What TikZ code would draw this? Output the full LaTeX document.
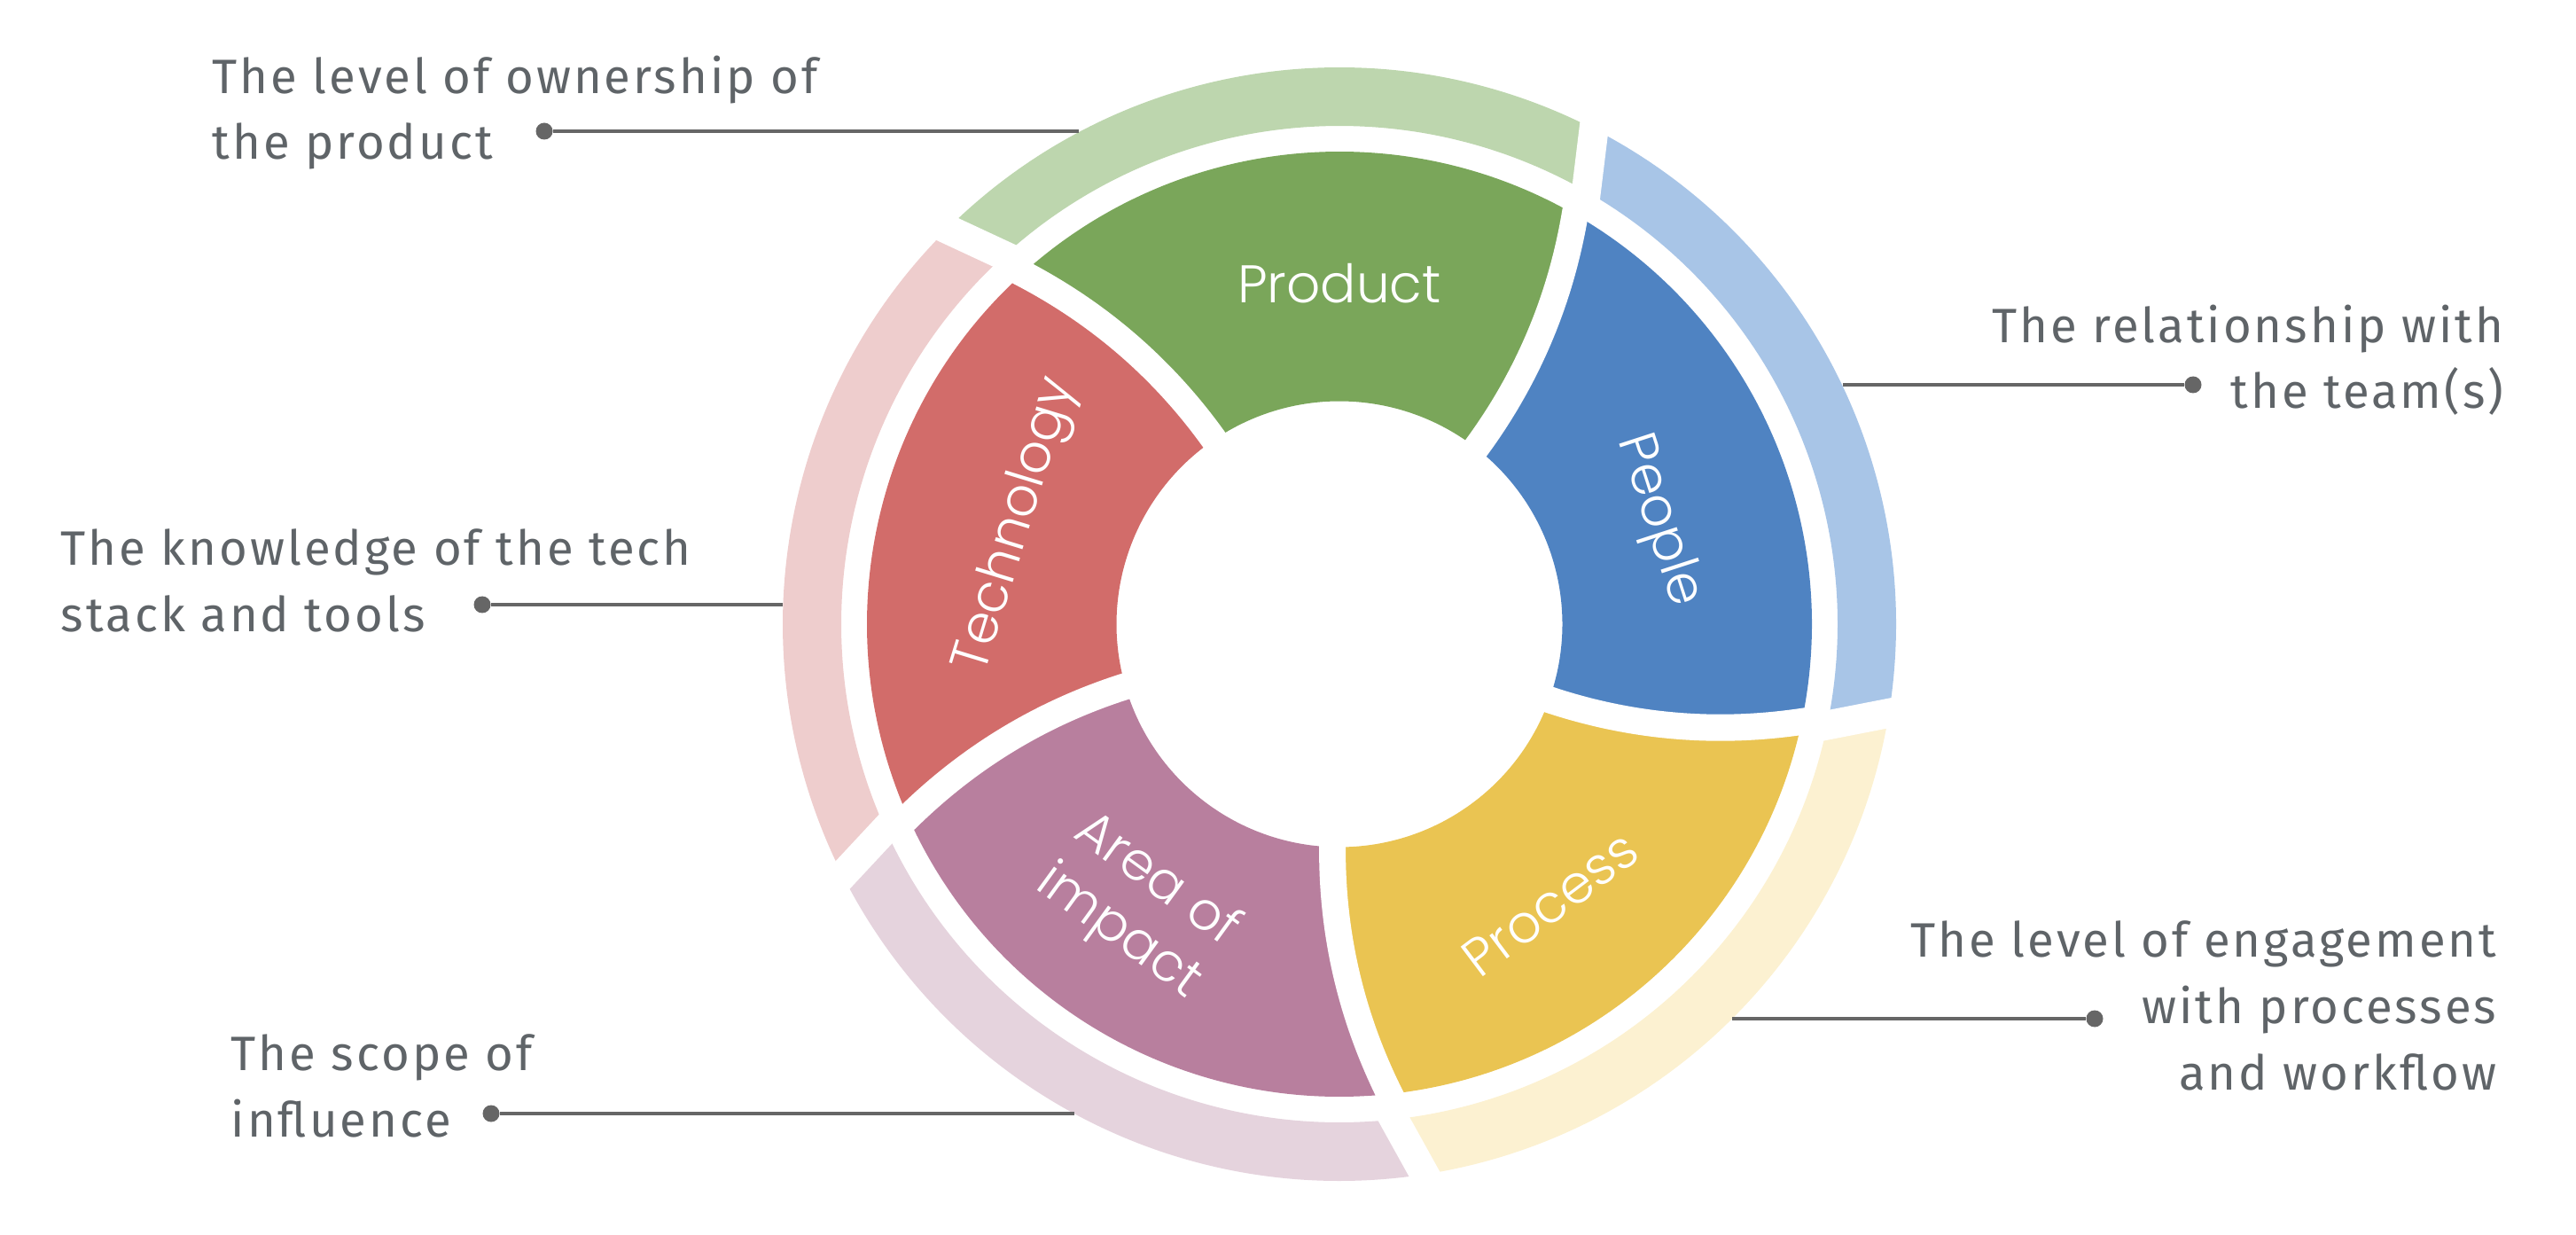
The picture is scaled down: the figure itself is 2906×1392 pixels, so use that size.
\documentclass[tikz,border=0pt]{standalone}
\usepackage{fontspec}
\setmainfont{Fira Sans}[LetterSpace=5.5]
\newfontfamily\segfont{Poppins Light}
\usetikzlibrary{calc}
\definecolor{prodc}{HTML}{7AA65A}
\definecolor{prodl}{HTML}{BDD6AE}
\definecolor{peoc}{HTML}{4F83C2}
\definecolor{peol}{HTML}{A8C5E7}
\definecolor{procc}{HTML}{EAC452}
\definecolor{procl}{HTML}{FCF1D1}
\definecolor{areac}{HTML}{B87F9E}
\definecolor{areal}{HTML}{E5D3DD}
\definecolor{techc}{HTML}{D26C6A}
\definecolor{techl}{HTML}{EECDCD}
\definecolor{txtc}{HTML}{5F6468}
\definecolor{linec}{HTML}{666666}
\tikzset{seg/.style={font=\segfont\fontsize{17pt}{20.5pt}\selectfont,text=white,align=center,inner sep=0pt},desc/.style={font=\fontsize{15.5pt}{21.3pt}\selectfont,text=txtc,inner sep=0pt},lead/.style={draw=linec,line width=1pt},dot/.style={circle,fill=linec,inner sep=0pt,minimum size=1.9mm},gap/.style={draw=white,line width=3mm,line cap=rect},ringgap/.style={draw=white,line width=3.3mm,line cap=rect}}
\begin{document}
\begin{tikzpicture}[x=0.1mm,y=0.1mm]
\useasboundingbox (0,0) rectangle (2906,1392);
\begin{scope}[shift={(1511,688)}]
\foreach \k/\main/\soft in {0/prodc/prodl,1/techc/techl,2/areac/areal,3/procc/procl,4/peoc/peol}{
\pgfmathsetmacro\ia{52.2+72*\k}\pgfmathsetmacro\ib{\ia+72}
\pgfmathsetmacro\oa{60.1+72*\k}\pgfmathsetmacro\ob{\oa+72}
\pgfmathsetmacro\ca{52.6+72*\k}\pgfmathsetmacro\cb{\ca+72}
\pgfmathsetmacro\da{55.7+72*\k}\pgfmathsetmacro\db{\da+72}
\pgfmathsetmacro\ra{60.3+72*\k}\pgfmathsetmacro\rb{\ra+72}
\pgfmathsetmacro\sa{62.8+72*\k}\pgfmathsetmacro\sb{\sa+72}
\fill[\main] (\ia:251.5) .. controls (\ca:349.5) and (\da:442.4) .. (\oa:533) arc[start angle=\oa,end angle=\ob,radius=533] .. controls (\db:442.4) and (\cb:349.5) .. (\ib:251.5) arc[start angle=\ib,end angle=\ia,radius=251.5] -- cycle;
\fill[\soft] (\ra:562) -- (\sa:628) arc[start angle=\sa,end angle=\sb,radius=628] -- (\rb:562) arc[start angle=\rb,end angle=\ra,radius=562] -- cycle;
}
\foreach \k in {0,...,4}{
\pgfmathsetmacro\ia{52.2+72*\k}\pgfmathsetmacro\oa{60.1+72*\k}
\pgfmathsetmacro\ca{52.6+72*\k}\pgfmathsetmacro\da{55.7+72*\k}
\pgfmathsetmacro\ra{60.3+72*\k}\pgfmathsetmacro\sa{62.8+72*\k}
\draw[gap] (\ia:251.5) .. controls (\ca:349.5) and (\da:442.4) .. (\oa:533);
\draw[ringgap] (\ra:562) -- (\sa:628);
}
\node[seg] (product) at (90:384) {Product};
\node[seg,rotate=-72] (people) at (18:378) {People};
\node[seg,rotate=37] (process) at (-53:395) {Process};
\node[seg,rotate=-36] (area) at (234.4:392) {Area of\\impact};
\node[seg,rotate=73] (tech) at (163:380) {Technology};
\end{scope}
\node[desc,anchor=base west,align=left] (ownership) at (239,1212) {The level of ownership of\\the product};
\node[desc,anchor=base east,align=right] (relation) at (2825,931) {The relationship with\\the team(s)};
\node[desc,anchor=base west,align=left] (knowledge) at (68,680) {The knowledge of the tech\\stack and tools};
\node[desc,anchor=base west,align=left] (scope) at (260,110) {The scope of\\influence};
\node[desc,anchor=base east,align=right] (engage) at (2817,163) {The level of engagement\\with processes\\and workflow};
\node[dot] (dotown) at (614,1244) {};
\node[dot] (dotrel) at (2474,958) {};
\node[dot] (dotknow) at (544,710) {};
\node[dot] (dotscope) at (554,136) {};
\node[dot] (doteng) at (2363,243) {};
\coordinate (endown) at (1217,1244);
\coordinate (endrel) at (2079,958);
\coordinate (endknow) at (883,710);
\coordinate (endscope) at (1212,136);
\coordinate (endeng) at (1954,243);
\draw[lead] (dotown) -- (endown);
\draw[lead] (dotrel) -- (endrel);
\draw[lead] (dotknow) -- (endknow);
\draw[lead] (dotscope) -- (endscope);
\draw[lead] (doteng) -- (endeng);
\end{tikzpicture}
\end{document}
